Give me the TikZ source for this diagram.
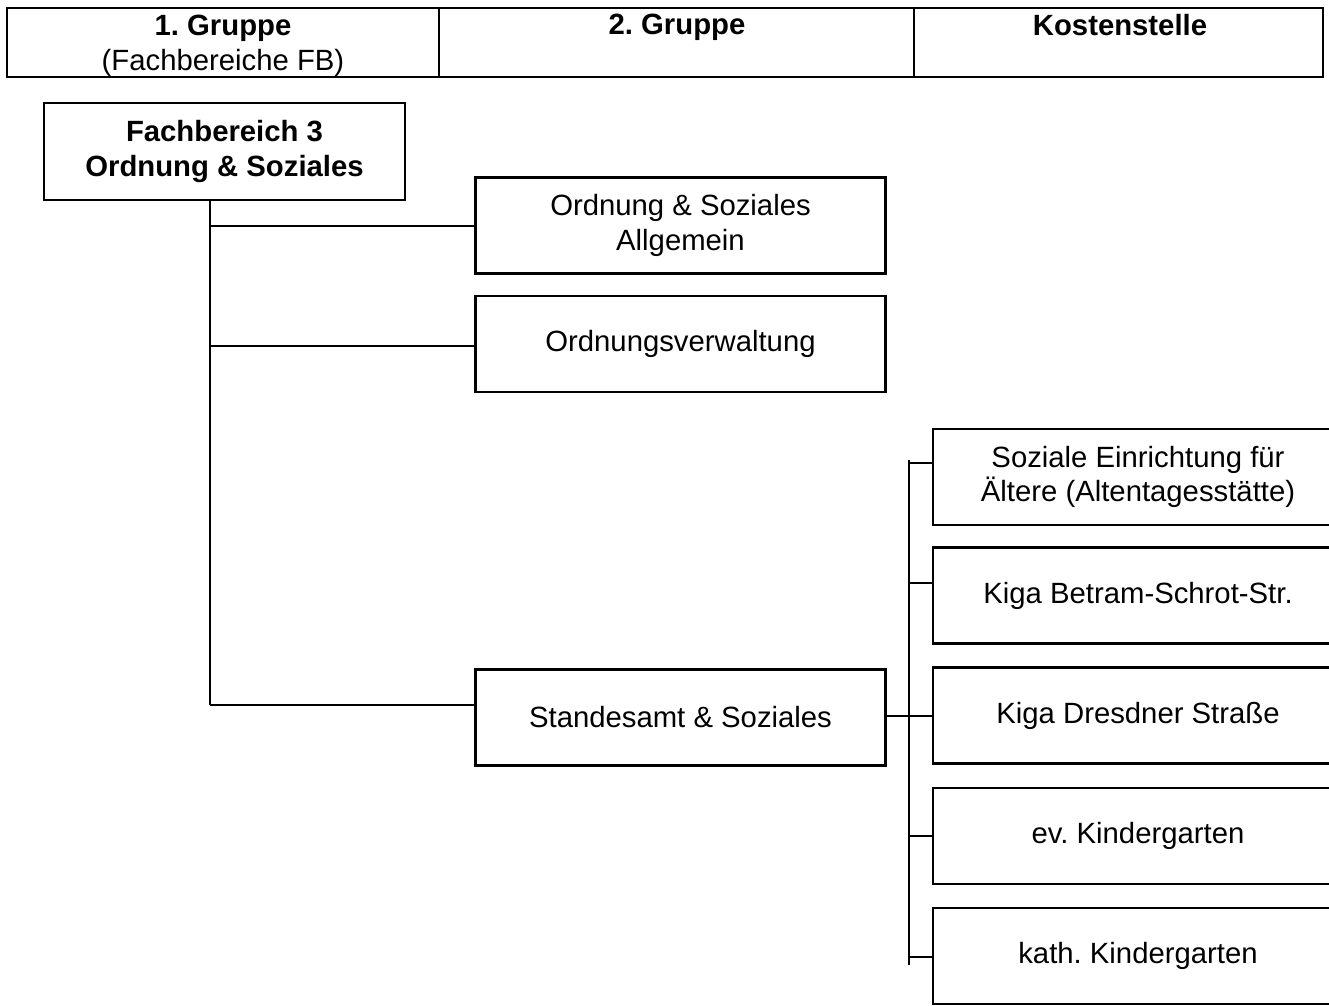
\documentclass[tikz,border=0pt]{standalone}
\usepackage{fontspec}
\setmainfont{Liberation Sans}
\usetikzlibrary{positioning}

\tikzset{
  box/.style={draw, line width=1.8pt, minimum width=12.3cm, minimum height=2.88cm,
    align=center, inner sep=0pt, font=\fontsize{25}{29.5}\selectfont},
  headtext/.style={align=center, inner sep=0pt, font=\fontsize{25}{29.5}\selectfont},
  conn/.style={line width=1.5pt}
}

\begin{document}
\begin{tikzpicture}[x=0.03cm, y=-0.03cm]

\useasboundingbox (0,0) rectangle (1329,1005);
\clip (0,0) rectangle (1329,1005);

% header
\draw[line width=1.5pt] (7,8) rectangle (1323,77);
\draw[line width=1.5pt] (439,8) -- (439,77);
\draw[line width=1.5pt] (914,8) -- (914,77);
\node[headtext] (h1) at (223,46) {\textbf{1.\ Gruppe}\\(Fachbereiche FB)};
\node[headtext] (h2) at (677,27) {\textbf{2.\ Gruppe}};
\node[headtext] (h3) at (1120,25) {\textbf{Kostenstelle}};

% 1. Gruppe
\node[box, minimum width=10.83cm, minimum height=2.91cm, font=\bfseries\fontsize{25}{30}\selectfont]
  (fb) at (224.5,151.5) {Fachbereich 3\\Ordnung \& Soziales};

% 2. Gruppe
\node[box] (allg) at (680.5,225.5) {Ordnung \& Soziales\\Allgemein};
\node[box] (ov) at (680.5,344) {Ordnungsverwaltung};
\node[box] (st) at (680.5,717.5) {Standesamt \& Soziales};

\coordinate (t0) at (210,200);
\coordinate (t1) at (210,705);
\draw[conn] (t0) -- (t1);
\draw[conn] (210,226) -- (allg.west |- 0,226);
\draw[conn] (210,346) -- (ov.west |- 0,346);
\draw[conn] (t1) -- (st.west |- t1);

% Kostenstellen
\node[box] (k1) at (1138,477) {Soziale Einrichtung für\\Ältere (Altentagesstätte)};
\node[box] (k2) at (1138,595.5) {Kiga Betram-Schrot-Str.};
\node[box] (k3) at (1138,715.5) {Kiga Dresdner Straße};
\node[box] (k4) at (1138,836) {ev.\ Kindergarten};
\node[box] (k5) at (1138,956) {kath.\ Kindergarten};

\coordinate (s0) at (909,460);
\coordinate (s1) at (909,965);
\draw[conn] (s0) -- (s1);
\draw[conn] (st.east |- 0,716) -- (909,716);
\foreach \name/\yy in {k1/463, k2/583, k3/716, k4/836, k5/957}
    \draw[conn] (909,\yy) -- (\name.west |- 0,\yy);

\end{tikzpicture}
\end{document}
